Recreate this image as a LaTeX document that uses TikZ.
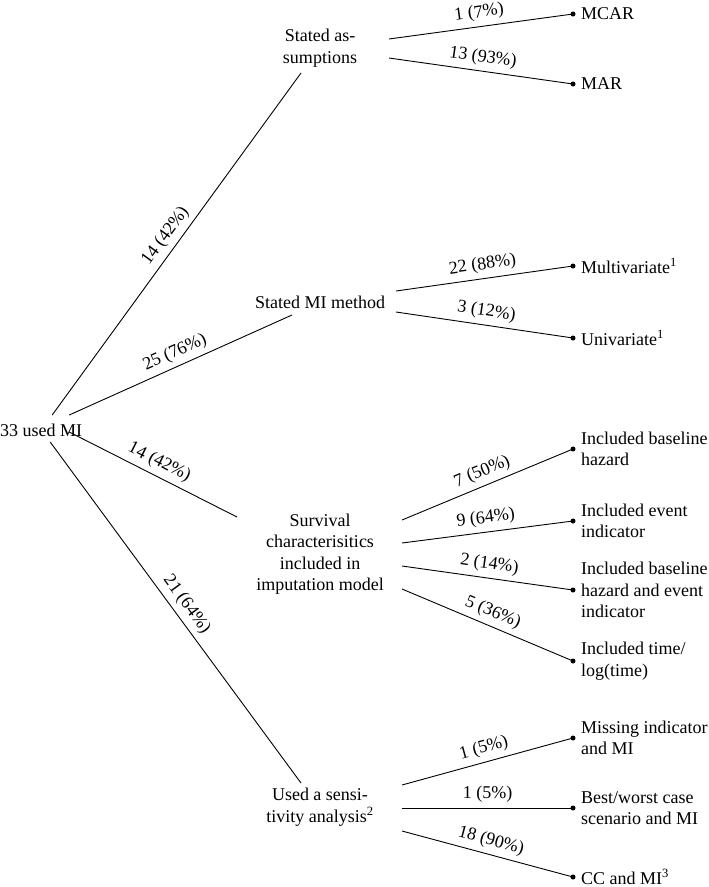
\documentclass[tikz,border=0pt]{standalone}
\usepackage{fontspec}
\setmainfont{Liberation Serif}
\begin{document}
\begin{tikzpicture}[x=1pt,y=-1pt,
  every node/.style={font=\fontsize{18}{21.5}\selectfont},
  mid/.style={align=center, inner sep=0pt},
  leaf/.style={align=left, anchor=west, inner sep=0pt},
  dotn/.style={circle, fill, inner sep=0pt, minimum size=5pt},
  edge/.style={line width=0.9pt},
  lab/.style={above, sloped, inner sep=5pt, pos=0.5}]
\useasboundingbox (0,0) rectangle (709,887);
% nodes
\node[inner sep=0pt, anchor=west] (root) at (0,430) {33 used MI};
\node[mid] (sa) at (320,48) {Stated as-\\sumptions};
\node[mid] (mm) at (320,302) {Stated MI method};
\node[mid] (sc) at (320,554) {Survival\\characterisitics\\included in\\imputation model};
\node[mid] (sn) at (320,807) {Used a sensi-\\tivity analysis\textsuperscript{2}};
% dots
\node[dotn] (d1) at (573,14) {};
\node[dotn] (d2) at (573,84) {};
\node[dotn] (d3) at (573,266) {};
\node[dotn] (d4) at (573,338) {};
\node[dotn] (d5) at (573,449) {};
\node[dotn] (d6) at (573,521) {};
\node[dotn] (d7) at (573,590) {};
\node[dotn] (d8) at (573,661) {};
\node[dotn] (d9) at (573,738) {};
\node[dotn] (d10) at (573,808) {};
\node[dotn] (d11) at (573,877) {};
% leaves
\node[leaf] (l1) at ([xshift=8]d1.center) {MCAR};
\node[leaf] (l2) at ([xshift=8]d2.center) {MAR};
\node[leaf] (l3) at ([xshift=8]d3.center) {Multivariate\textsuperscript{1}};
\node[leaf] (l4) at ([xshift=8]d4.center) {Univariate\textsuperscript{1}};
\node[leaf] (l5) at ([xshift=8]d5.center) {Included baseline\\hazard};
\node[leaf] (l6) at ([xshift=8]d6.center) {Included event\\indicator};
\node[leaf] (l7) at ([xshift=8]d7.center) {Included baseline\\hazard and event\\indicator};
\node[leaf] (l8) at ([xshift=8]d8.center) {Included time/\\log(time)};
\node[leaf] (l9) at ([xshift=8]d9.center) {Missing indicator\\and MI};
\node[leaf] (l10) at ([xshift=8]d10.center) {Best/worst case\\scenario and MI};
\node[leaf] (l11) at ([xshift=8]d11.center) {CC and MI\textsuperscript{3}};
% root connectors
\draw[edge] ([shift={(11,-15)}]root.center) -- node[lab]{14 (42\%)} ([shift={(-19,25)}]sa.center);
\draw[edge] ([shift={(28,-15)}]root.center) -- node[lab]{25 (76\%)} ([shift={(-28,13)}]mm.center);
\draw[edge] ([shift={(28,2)}]root.center) -- node[lab]{14 (42\%)} ([shift={(-83,-37)}]sc.center);
\draw[edge] ([shift={(9,12)}]root.center) -- node[lab]{21 (64\%)} ([shift={(-19,-24)}]sn.center);
% right connectors
\draw[edge] ([shift={(69,-9)}]sa.center) -- node[lab]{1 (7\%)} (d1.center);
\draw[edge] ([shift={(69,10)}]sa.center) -- node[lab]{13 (93\%)} (d2.center);
\draw[edge] ([shift={(76,-11)}]mm.center) -- node[lab]{22 (88\%)} (d3.center);
\draw[edge] ([shift={(76,10)}]mm.center) -- node[lab]{3 (12\%)} (d4.center);
\draw[edge] ([shift={(82,-34)}]sc.center) -- node[lab]{7 (50\%)} (d5.center);
\draw[edge] ([shift={(82,-11)}]sc.center) -- node[lab]{9 (64\%)} (d6.center);
\draw[edge] ([shift={(82,12)}]sc.center) -- node[lab]{2 (14\%)} (d7.center);
\draw[edge] ([shift={(82,35)}]sc.center) -- node[lab]{5 (36\%)} (d8.center);
\draw[edge] ([shift={(82,-22)}]sn.center) -- node[lab]{1 (5\%)} (d9.center);
\draw[edge] ([shift={(82,1)}]sn.center) -- node[lab]{1 (5\%)} (d10.center);
\draw[edge] ([shift={(82,24)}]sn.center) -- node[lab]{18 (90\%)} (d11.center);
\end{tikzpicture}
\end{document}
